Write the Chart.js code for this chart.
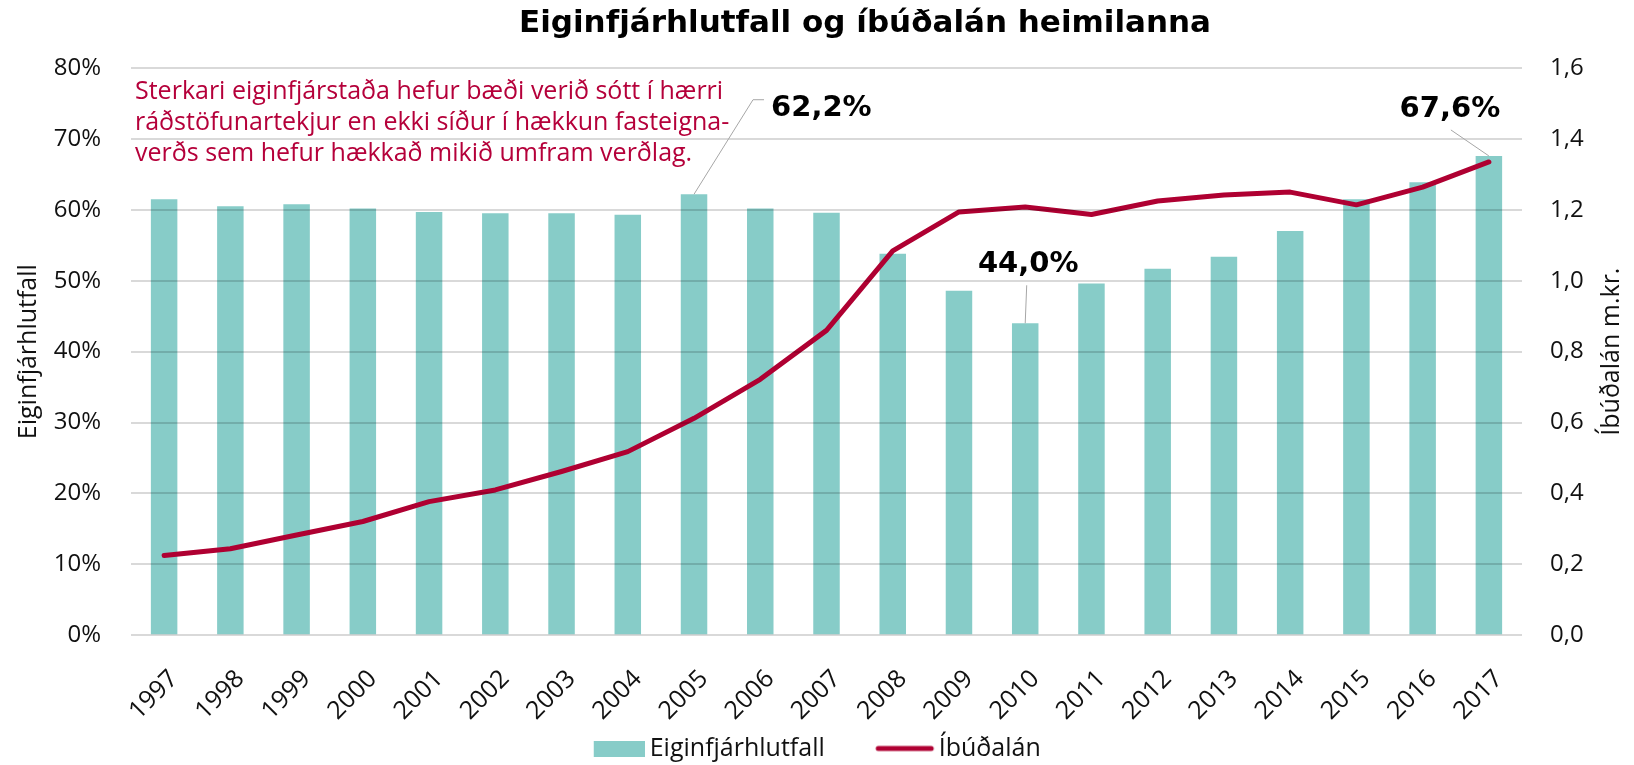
<!DOCTYPE html>
<html>
<head>
<meta charset="utf-8">
<script src="https://cdn.jsdelivr.net/npm/chart.js@4.4.1/dist/chart.umd.min.js"></script>
<style>
  html, body { margin: 0; padding: 0; background: #ffffff; }
  #wrap { width: 1634px; height: 765px; }
</style>
</head>
<body>
<div id="wrap"><canvas id="c" width="1634" height="765"></canvas></div>
<script>
// ---- data ----
const years = ['1997','1998','1999','2000','2001','2002','2003','2004','2005','2006','2007',
               '2008','2009','2010','2011','2012','2013','2014','2015','2016','2017'];
const equityRatio = [61.5, 60.5, 60.8, 60.2, 59.7, 59.5, 59.5, 59.3, 62.2, 60.2, 59.6,
                     53.8, 48.6, 44.0, 49.6, 51.7, 53.4, 57.0, 61.5, 63.9, 67.6];
const mortgages = [0.225, 0.244, 0.283, 0.321, 0.377, 0.410, 0.462, 0.518, 0.612, 0.722, 0.860,
                   1.084, 1.194, 1.208, 1.187, 1.225, 1.242, 1.250, 1.214, 1.264, 1.335];
const leftTickLabels = ['0%','10%','20%','30%','40%','50%','60%','70%','80%'];
const rightTickLabels = ['0,0','0,2','0,4','0,6','0,8','1,0','1,2','1,4','1,6'];
const seriesNames = ['Eiginfjárhlutfall', 'Íbúðalán'];
const chartTitle = 'Eiginfjárhlutfall og íbúðalán heimilanna';
const leftAxisTitle = 'Eiginfjárhlutfall';
const rightAxisTitle = 'Íbúðalán m.kr.';
const noteLines = [
  'Sterkari eiginfjárstaða hefur bæði verið sótt í hærri',
  'ráðstöfunartekjur en ekki síður í hækkun fasteigna-',
  'verðs sem hefur hækkað mikið umfram verðlag.'
];
const calloutYears = ['2005', '2010', '2017'];

// ---- styles ----
const FONT = "'Open Sans', 'Noto Sans', sans-serif";
const BOLD_FONT = "'DejaVu Sans', 'Open Sans', sans-serif";
const TEXT = '#111111';
const BAR_COLOR = 'rgb(135,204,200)';
const LINE_COLOR = '#AF0032';
const NOTE_COLOR = '#B5003A';
const LEGEND_BOX = 44;

const calloutStyle = {
  '2005': { path: [[59, -94.5], [70, -94.5]], text: [77, -85.5], align: 'left' },
  '2010': { path: [[1.5, -38]], text: [3, -58.5], align: 'center' },
  '2017': { path: [[-38, -26]], text: [-39, -46.5], align: 'center' }
};

const fmtPct = v => v.toFixed(1).replace('.', ',') + '%';

// legend swatches (asymmetric so the swatch sits close to its text)
function makeSwatch(kind) {
  const c = document.createElement('canvas');
  if (kind === 'rect') {
    c.width = 59; c.height = 16;
    const g = c.getContext('2d');
    g.fillStyle = BAR_COLOR;
    g.fillRect(8, 0, 51, 16);
  } else {
    c.width = 80; c.height = 8;
    const g = c.getContext('2d');
    g.strokeStyle = LINE_COLOR;
    g.lineWidth = 5;
    g.lineCap = 'round';
    g.beginPath();
    g.moveTo(14, 4);
    g.lineTo(67, 4);
    g.stroke();
  }
  return c;
}
const rectSwatch = makeSwatch('rect');
const lineSwatch = makeSwatch('line');

const overlayPlugin = {
  id: 'overlay',
  afterDraw(chart) {
    const ctx = chart.ctx;
    const ca = chart.chartArea;
    ctx.save();
    // title
    ctx.fillStyle = '#000';
    ctx.font = `bold 31px ${BOLD_FONT}`;
    ctx.textAlign = 'center';
    ctx.textBaseline = 'alphabetic';
    ctx.fillText(chartTitle, 865, 32);

    // right axis title (reads bottom to top)
    ctx.save();
    ctx.translate(1612, (ca.top + ca.bottom) / 2);
    ctx.rotate(-Math.PI / 2);
    ctx.font = `25px ${FONT}`;
    ctx.fillStyle = TEXT;
    ctx.textAlign = 'center';
    ctx.textBaseline = 'middle';
    ctx.fillText(rightAxisTitle, 0, 0);
    ctx.restore();

    // note text
    ctx.font = `25px ${FONT}`;
    ctx.fillStyle = NOTE_COLOR;
    ctx.textAlign = 'left';
    ctx.textBaseline = 'alphabetic';
    noteLines.forEach((t, i) => ctx.fillText(t, ca.left + 4, ca.top + 31 + i * 31));

    // callouts
    const meta = chart.getDatasetMeta(0);
    calloutYears.forEach(yr => {
      const i = years.indexOf(yr);
      const el = meta.data[i];
      const st = calloutStyle[yr];
      ctx.strokeStyle = '#A6A6A6';
      ctx.lineWidth = 1;
      ctx.beginPath();
      ctx.moveTo(el.x, el.y);
      st.path.forEach(p => ctx.lineTo(el.x + p[0], el.y + p[1]));
      ctx.stroke();
      ctx.font = `bold 29px ${BOLD_FONT}`;
      ctx.fillStyle = '#000';
      ctx.textAlign = st.align;
      ctx.textBaseline = 'middle';
      ctx.fillText(fmtPct(equityRatio[i]), el.x + st.text[0], el.y + st.text[1]);
    });
    ctx.restore();
  }
};

new Chart(document.getElementById('c'), {
  data: {
    labels: years,
    datasets: [
      {
        type: 'bar',
        label: seriesNames[0],
        data: equityRatio,
        yAxisID: 'y',
        backgroundColor: BAR_COLOR,
        borderWidth: 0,
        barPercentage: 0.4,
        categoryPercentage: 1.0,
        order: 2
      },
      {
        type: 'line',
        label: seriesNames[1],
        data: mortgages,
        yAxisID: 'y1',
        borderColor: LINE_COLOR,
        backgroundColor: LINE_COLOR,
        borderWidth: 5,
        borderJoinStyle: 'round',
        borderCapStyle: 'round',
        pointRadius: 0,
        tension: 0,
        order: 1
      }
    ]
  },
  options: {
    responsive: false,
    animation: false,
    devicePixelRatio: 1,
    layout: { padding: { top: 68, left: 0, right: 0, bottom: -6 } },
    plugins: {
      title: { display: false },
      tooltip: { enabled: false },
      legend: {
        position: 'bottom',
        labels: {
          usePointStyle: true,
          pointStyleWidth: LEGEND_BOX,
          boxHeight: 16,
          padding: 12,
          color: TEXT,
          font: { family: FONT, size: 25 },
          sort: (a, b) => a.datasetIndex - b.datasetIndex,
          generateLabels(chart) {
            const items = Chart.defaults.plugins.legend.labels.generateLabels(chart);
            items.forEach(it => {
              if (it.datasetIndex === 1) {
                it.pointStyle = lineSwatch;
              } else {
                it.text = it.text + '\u00A0\u00A0\u00A0\u00A0\u00A0\u00A0\u00A0';
                it.pointStyle = rectSwatch;
              }
              it.lineWidth = 0;
            });
            return items;
          }
        }
      }
    },
    scales: {
      x: {
        grid: { display: false },
        border: { display: false },
        ticks: {
          autoSkip: false, minRotation: 45, maxRotation: 45, padding: 21, labelOffset: 10,
          color: TEXT, font: { family: FONT, size: 25 }
        },
        afterFit(s) { s.height = 88.7; }
      },
      y: {
        position: 'left',
        min: 0, max: 80,
        ticks: {
          stepSize: 10, padding: 30, color: TEXT,
          font: { family: FONT, size: 24 },
          callback: (v, i) => leftTickLabels[i]
        },
        grid: { color: 'rgba(0,0,0,0.15)', lineWidth: 2, drawTicks: false, z: 1 },
        border: { display: false },
        title: {
          display: true, text: leftAxisTitle, color: TEXT,
          font: { family: FONT, size: 25 }, padding: { top: 14, bottom: 0 }
        },
        afterFit(s) { s.width = 131; }
      },
      y1: {
        position: 'right',
        min: 0, max: 1.6,
        ticks: {
          stepSize: 0.2, padding: 28, color: TEXT,
          font: { family: FONT, size: 24 },
          callback: (v, i) => rightTickLabels[i]
        },
        grid: { drawOnChartArea: false, drawTicks: false },
        border: { display: false },
        afterFit(s) { s.width = 112; }
      }
    }
  },
  plugins: [overlayPlugin]
});
</script>
</body>
</html>
